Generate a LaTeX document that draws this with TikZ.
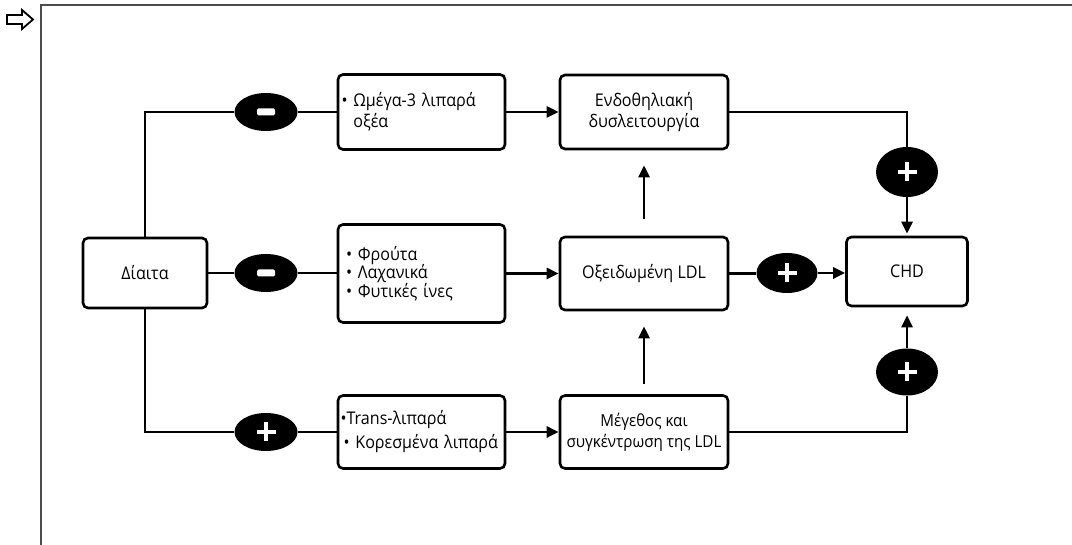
\documentclass[tikz,border=0pt]{standalone}
\usepackage{fontspec}
\setmainfont{Open Sans}[FakeStretch=0.92]
\usetikzlibrary{shapes.geometric,arrows.meta,calc}
\begin{document}
\begin{tikzpicture}[x=1pt,y=-1pt,
  box/.style={draw, line width=2.6pt, rounded corners=5pt, inner sep=0pt, font=\fontsize{17.5}{21}\selectfont},
  ln/.style={line width=2.6pt},
  arr/.style={line width=2.6pt, -{Triangle[length=12pt,width=11pt]}},
  oval/.style={ellipse, fill=black, inner sep=0pt},
  minusov/.style={oval, path picture={\fill[white,rounded corners=1.5pt] ([xshift=-9pt,yshift=-3.5pt]path picture bounding box.center) rectangle ([xshift=9pt,yshift=3.5pt]path picture bounding box.center);}},
  plusov/.style={oval, path picture={\draw[white,line width=4.5pt] ([xshift=-9.5pt]path picture bounding box.center) -- ([xshift=9.5pt]path picture bounding box.center) ([yshift=-9.5pt]path picture bounding box.center) -- ([yshift=9.5pt]path picture bounding box.center);}},
  frameline/.style={line width=2.5pt, black!70}
]
\useasboundingbox (0,0) rectangle (1072,545);
% frame and mark
\draw[frameline] (41,545) -- (41,5) -- (1072,5);
\draw[line width=1.8pt, line join=miter] (7,15) -- (22,15) -- (22,10) -- (33,19.5) -- (22,29) -- (22,24) -- (7,24) -- cycle;
% boxes
\node[box, minimum width=124pt, minimum height=70pt] (diaita) at (145,273) {Δίαιτα};
\node[box, minimum width=167pt, minimum height=75pt, text width=160pt, align=left] (omega) at (421.5,112) {•\ Ωμέγα-3 λιπαρά\\\hphantom{•\ }οξέα};
\node[box, minimum width=167pt, minimum height=98pt, text width=151pt, align=left, font=\fontsize{17.5}{18.5}\selectfont] (fruit) at (421.5,273.5) {•\ Φρούτα\\•\ Λαχανικά\\•\ Φυτικές ίνες};
\node[box, minimum width=167pt, minimum height=73pt, text width=162pt, align=left, font=\fontsize{17.5}{24}\selectfont] (trans) at (421.5,432) {•Trans-λιπαρά\\\hspace*{3pt}•\ Κορεσμένα λιπαρά};
\node[box, minimum width=168pt, minimum height=74pt, align=center] (endo) at (644,112) {Ενδοθηλιακή\\δυσλειτουργία};
\node[box, minimum width=168pt, minimum height=73pt] (oxid) at (644,273.5) {Οξειδωμένη LDL};
\node[box, minimum width=168pt, minimum height=73pt, align=center, font=\fontsize{16.5}{21}\selectfont] (meg) at (644,432) {Μέγεθος και\\συγκέντρωση της LDL};
\node[box, minimum width=121pt, minimum height=69pt] (chd) at (907,271.5) {CHD};
% ovals
\node[minusov, minimum width=63pt, minimum height=38pt] (m1) at (266,112) {};
\node[minusov, minimum width=63pt, minimum height=38pt] (m2) at (266,273) {};
\node[plusov, minimum width=63pt, minimum height=38pt] (p1) at (266,432) {};
\node[plusov, minimum width=62pt, minimum height=50pt] (p2) at (907,172) {};
\node[plusov, minimum width=61pt, minimum height=40pt] (p3) at (787,273) {};
\node[plusov, minimum width=62pt, minimum height=47pt] (p4) at (907,372) {};
% connectors
\draw[ln] (diaita.north) |- (m1.west);
\draw[ln] (m1.east) -- (m1.east -| omega.west);
\draw[ln] (diaita.east) -- (diaita.east -| m2.west);
\draw[ln] (m2.east) -- (m2.east -| fruit.west);
\draw[ln] (diaita.south) |- (p1.west);
\draw[ln] (p1.east) -- (trans.west);
\draw[arr] (omega.east) -- (endo.west);
\draw[arr] (fruit.east) -- (oxid.west);
\draw[arr] (trans.east) -- (meg.west);
\draw[arr, shorten <=17pt, shorten >=15pt] (oxid.north) -- (endo.south);
\draw[arr, shorten <=10pt, shorten >=15pt] (meg.north) -- (oxid.south);
\draw[ln] (endo.east) -| (p2.north);
\draw[arr, shorten >=2pt] (p2.south) -- (chd.north);
\draw[ln] (oxid.east) -- (oxid.east -| p3.west);
\draw[arr] (p3.east) -- (p3.east -| chd.west);
\draw[ln] (meg.east) -| (p4.south);
\draw[arr, shorten >=8pt] (p4.north) -- (chd.south);
\end{tikzpicture}
\end{document}
